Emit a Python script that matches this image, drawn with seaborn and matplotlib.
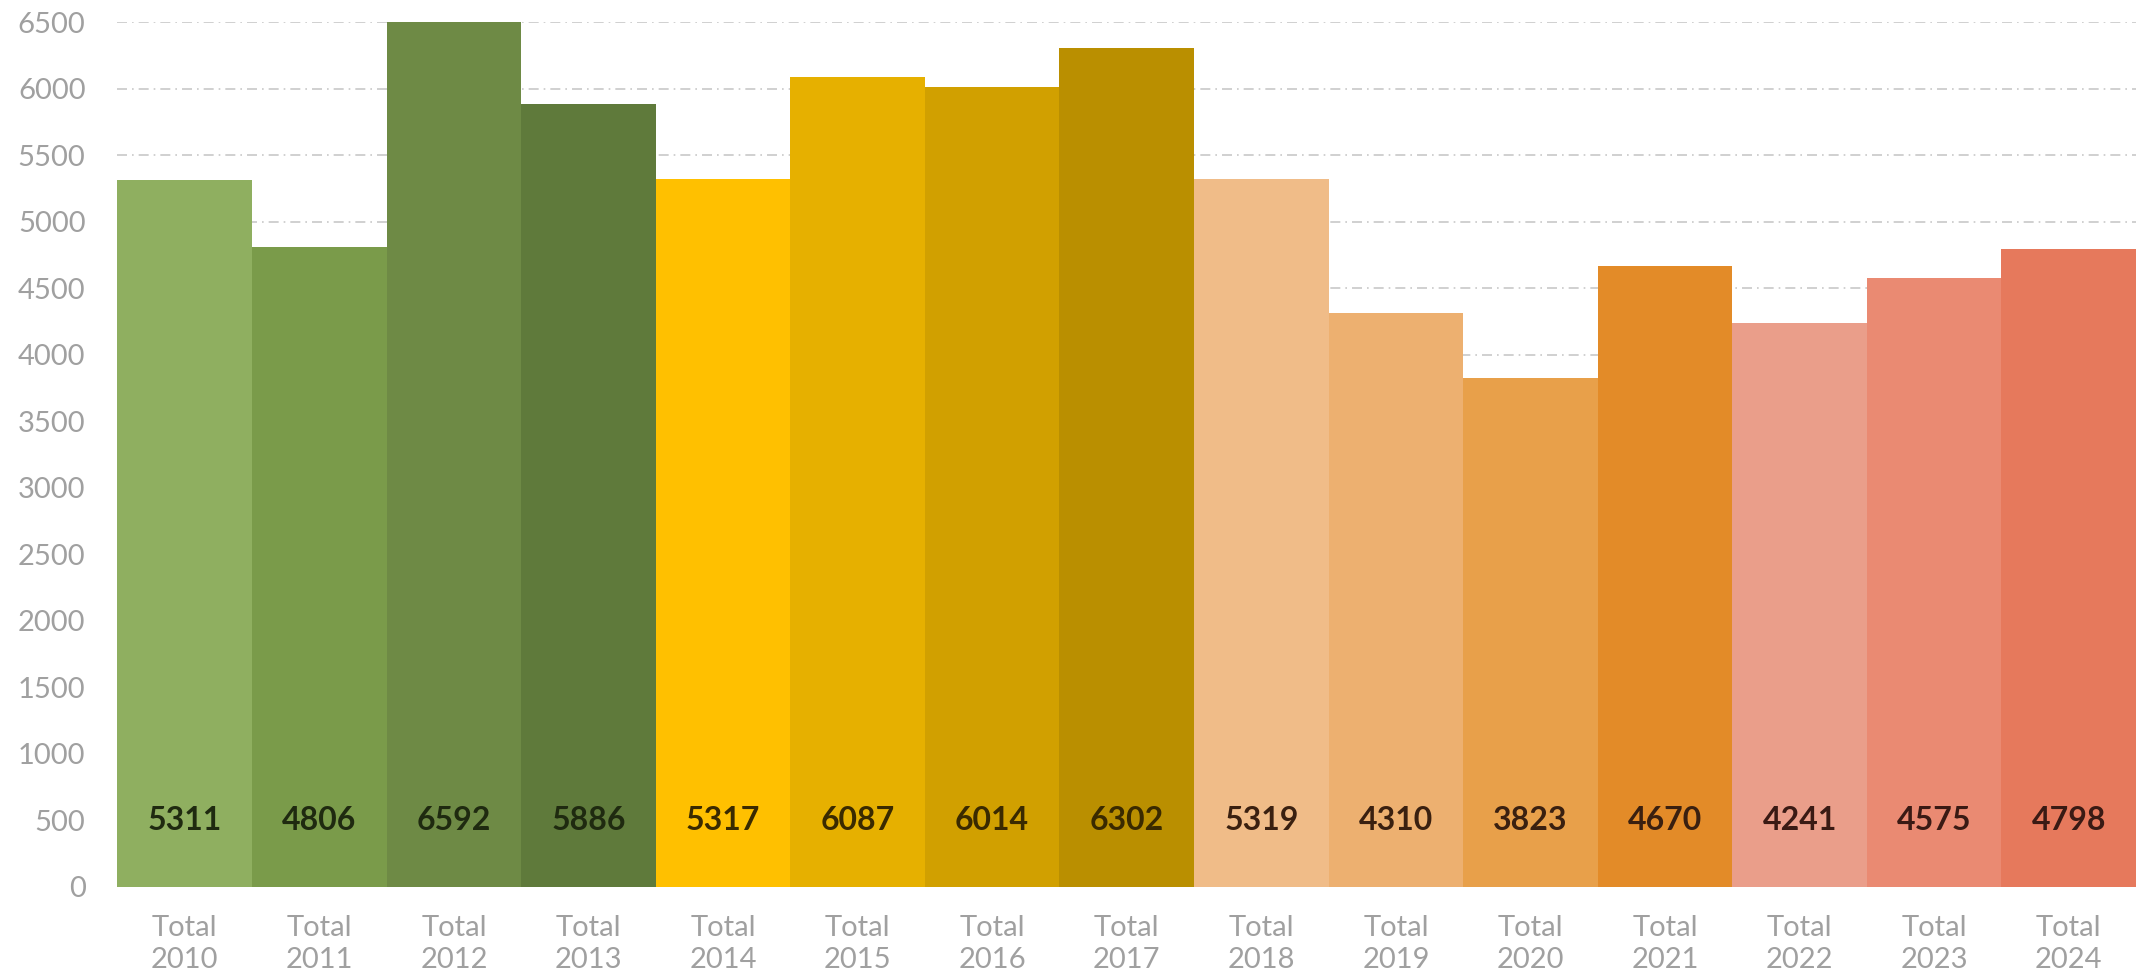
import matplotlib
matplotlib.use("Agg")
import matplotlib.pyplot as plt
import seaborn as sns
import pandas as pd

years = ["2010", "2011", "2012", "2013", "2014", "2015", "2016", "2017",
         "2018", "2019", "2020", "2021", "2022", "2023", "2024"]
values = [5311, 4806, 6592, 5886, 5317, 6087, 6014, 6302,
          5319, 4310, 3823, 4670, 4241, 4575, 4798]
labels = [f"Total\n{y}" for y in years]
colors = ["#8FAF60", "#7A9B4A", "#6E8A45", "#5F7A3B",
          "#FFC000", "#E6B000", "#D1A000", "#BA8F00",
          "#F0BC88", "#EDB070", "#E8A04A", "#E38B28",
          "#EA9E8A", "#EA8A72", "#E6795C"]
text_colors = ["#1F2A10"] * 4 + ["#3A2A00"] * 4 + ["#3A2010"] * 4 + ["#3A1A14"] * 3

sns.set_theme(style="white")
plt.rcParams["font.family"] = ["Lato", "DejaVu Sans"]

df = pd.DataFrame({"label": labels, "value": values})

fig = plt.figure(figsize=(21.36, 9.75), dpi=100)
ax = fig.add_axes([0.055, 0.0903, 0.945, 0.8871])

sns.barplot(data=df, x="label", y="value", hue="label", palette=colors,
            width=1.0, saturation=1, legend=False, ax=ax, zorder=2,
            linewidth=0, edgecolor="none")

ax.set_ylim(0, 6500)
ax.set_xlim(-0.5, len(years) - 0.5)
ax.set_yticks(range(0, 6501, 500))
ax.yaxis.grid(True, color="#C8C8C8", linestyle=(0, (6, 3, 1, 3)), linewidth=1.2, zorder=0)
ax.xaxis.grid(False)
ax.set_axisbelow(True)
for s in ax.spines.values():
    s.set_visible(False)
ax.set_xlabel("")
ax.set_ylabel("")
ax.tick_params(axis="y", length=0, pad=23, labelsize=21, labelcolor="#A0A0A0")
ax.tick_params(axis="x", length=0, pad=20, labelsize=21, labelcolor="#A0A0A0")
for t in ax.get_xticklabels() + ax.get_yticklabels():
    t.set_fontweight("normal")
for t in ax.get_xticklabels():
    t.set_linespacing(1.3)

for i, v in enumerate(values):
    ax.text(i, 500, str(v), ha="center", va="center", fontsize=23,
            fontweight="bold", color=text_colors[i], zorder=3)

fig.savefig("out.png", dpi=100)
